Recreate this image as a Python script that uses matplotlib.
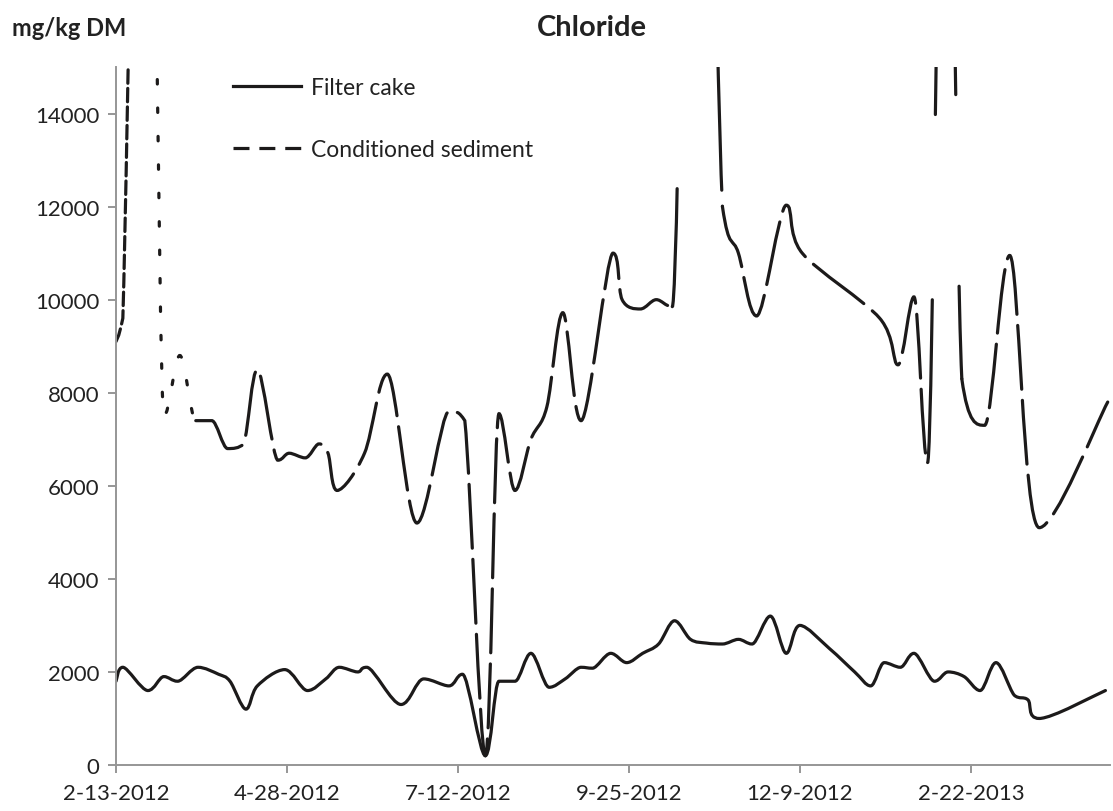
import numpy as np
import pandas as pd
import matplotlib
matplotlib.use('Agg')
import matplotlib.pyplot as plt
import matplotlib.dates as mdates
from matplotlib.path import Path
from matplotlib.patches import PathPatch
from matplotlib.lines import Line2D
from matplotlib.ticker import FuncFormatter

plt.rcParams['font.family'] = ['Lato', 'DejaVu Sans']

#%% data (days after 13 Feb 2012, chloride in mg/kg DM)
start = pd.Timestamp('2012-02-13')

filter_days = [0, 3, 14, 21, 27, 36, 45, 50, 57, 62, 74, 84, 92, 98, 106, 110,
               125, 135, 146, 152, 162, 168, 175, 182, 190, 197, 204, 209, 217,
               224, 231, 238, 245, 252, 259, 266, 273, 279, 287, 294, 300, 313,
               324, 331, 337, 344, 350, 359, 365, 372, 379, 386, 394, 400, 405, 434]
filter_cl = [1800, 2100, 1600, 1900, 1800, 2100, 1950, 1800, 1200, 1700, 2050, 1600,
             1850, 2100, 2000, 2100, 1300, 1850, 1700, 1950, 200, 1800, 1800, 2400,
             1670, 1850, 2100, 2080, 2400, 2200, 2400, 2600, 3100, 2700, 2620, 2600,
             2700, 2600, 3200, 2400, 3000, 2500, 2000, 1700, 2200, 2100, 2400, 1800,
             2000, 1900, 1600, 2200, 1500, 1400, 1000, 1600]

cond_days = [0, 3, 13, 21, 28, 35, 42, 49, 56, 62, 71, 76, 83, 89, 93, 97, 109,
             119, 132, 146, 153, 162, 168, 175, 182, 189, 196, 204, 218, 222, 230,
             237, 244, 255, 266, 273, 281, 294, 301, 335, 343, 350, 356, 364, 371,
             381, 392, 405, 435]
cond_cl = [9100, 9600, 30000, 7500, 8800, 7400, 7400, 6800, 6900, 8500, 6550, 6700,
           6600, 6900, 6700, 5900, 6700, 8400, 5200, 7600, 7400, 200, 7550, 5900,
           7000, 7700, 9720, 7400, 11000, 10000, 9800, 10000, 9850, 30000, 12000,
           11000, 9650, 12030, 11000, 9600, 8600, 10060, 6500, 25000, 8300, 7300,
           10950, 5100, 7800]

x_ticks_days = [0, 75, 150, 225, 300, 375]
y_ticks = [0, 2000, 4000, 6000, 8000, 10000, 12000, 14000]

ink = '#1c1a1a'
axis_grey = '#969696'
text_col = '#222222'


def smooth_path(x, y, i0, i1):
    # Excel-like smoothed line: cubic Bezier through the points
    n = len(x)
    mx = np.zeros(n)
    my = np.zeros(n)
    for i in range(n):
        a = max(i - 1, 0)
        b = min(i + 1, n - 1)
        mx[i] = (x[b] - x[a]) / 6
        my[i] = (y[b] - y[a]) / 6
        if 0 < i < n - 1 and (y[i] - y[a]) * (y[b] - y[i]) <= 0:
            my[i] = 0
    verts = [(x[i0], y[i0])]
    codes = [Path.MOVETO]
    for i in range(i0, i1):
        lo, hi = min(y[i], y[i + 1]), max(y[i], y[i + 1])
        c1 = (x[i] + mx[i], np.clip(y[i] + my[i], lo, hi))
        c2 = (x[i + 1] - mx[i + 1], np.clip(y[i + 1] - my[i + 1], lo, hi))
        verts += [c1, c2, (x[i + 1], y[i + 1])]
        codes += [Path.CURVE4] * 3
    return Path(verts, codes)


t0 = mdates.date2num(start.to_pydatetime())
fx = t0 + np.array(filter_days, dtype=float)
fy = np.array(filter_cl, dtype=float)
cx = t0 + np.array(cond_days, dtype=float)
cy = np.array(cond_cl, dtype=float)

fig = plt.figure(figsize=(11.13, 8.12), dpi=100)
ax = fig.add_axes([116 / 1113, 46 / 812, 994 / 1113, 698 / 812])

lw = 2.3
ax.add_patch(PathPatch(smooth_path(fx, fy, 0, len(fx) - 1), fill=False,
                       lw=lw, ec=ink, capstyle='round', joinstyle='round'))

# conditioned sediment: the dash pattern of the original is uneven,
# so each stretch of the curve gets its own pattern
long_dash = (0, (20, 3.5))
pieces = [(0, 2, (0, (4.2, 1.6))),
          (2, 5, (0, (1.4, 7.5))),
          (5, 32, long_dash),
          (32, 34, (0, (37, 475, 39, 5, 40))),
          (34, 42, long_dash),
          (42, 44, (0, (51, 58, 15, 291, 9, 60, 40))),
          (44, len(cx) - 1, long_dash)]
for i0, i1, style in pieces:
    ax.add_patch(PathPatch(smooth_path(cx, cy, i0, i1), fill=False, lw=lw,
                           ec=ink, ls=style, capstyle='round'))

ax.set_xlim(t0, t0 + 436)
ax.set_ylim(0, 15000)
ax.set_xticks(t0 + np.array(x_ticks_days, dtype=float))
ax.xaxis.set_major_formatter(FuncFormatter(
    lambda v, p: '{d.month}-{d.day}-{d.year}'.format(d=mdates.num2date(v))))
ax.set_yticks(y_ticks)

for s in ['top', 'right']:
    ax.spines[s].set_visible(False)
for s in ['left', 'bottom']:
    ax.spines[s].set_color(axis_grey)
    ax.spines[s].set_linewidth(1.4)
ax.tick_params(axis='both', direction='out', length=6, width=1.4,
               color=axis_grey, labelsize=16, labelcolor=text_col)
ax.tick_params(axis='x', pad=7)
ax.tick_params(axis='y', pad=6)

handles = [Line2D([], [], color=ink, lw=lw),
           Line2D([], [], color=ink, lw=lw, ls=(0, (5.0, 3.1)))]
ax.legend(handles, ['Filter cake', 'Conditioned sediment'], loc='upper left',
          bbox_to_anchor=(0.118, 0.986), frameon=False, fontsize=16.5,
          handlelength=2.95, handletextpad=0.45, labelspacing=1.8,
          borderaxespad=0, borderpad=0, labelcolor=text_col)

fig.text(592 / 1113, 0.966, 'Chloride', ha='center', va='center', fontsize=21,
         fontweight='bold', color=text_col)
fig.text(0.011, 0.965, 'mg/kg DM', ha='left', va='center', fontsize=17,
         fontweight='bold', color=text_col)

fig.savefig('out.png', dpi=100)
